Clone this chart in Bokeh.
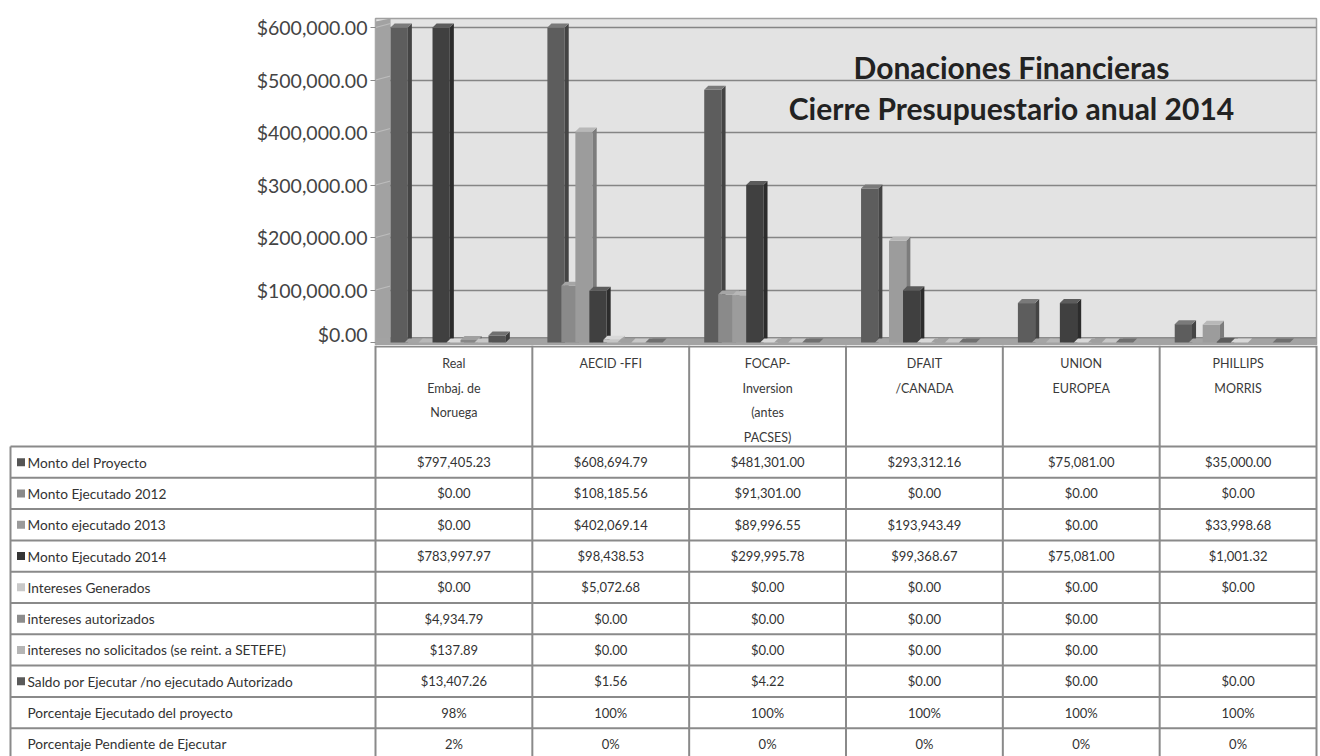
from bokeh.plotting import figure
from bokeh.layouts import column
from bokeh.models import Range1d, NumeralTickFormatter, FixedTicker, Label
from bokeh.embed import file_html
from bokeh.resources import INLINE
from bokeh.core.properties import value

# ---------------- data ----------------
categories = [
    ["Real", "Embaj. de", "Noruega"],
    ["AECID -FFI"],
    ["FOCAP-", "Inversion", "(antes", "PACSES)"],
    ["DFAIT", "/CANADA"],
    ["UNION", "EUROPEA"],
    ["PHILLIPS", "MORRIS"],
]
series_names = [
    "Monto  del Proyecto",
    "Monto Ejecutado 2012",
    "Monto  ejecutado 2013",
    "Monto Ejecutado 2014",
    "Intereses Generados",
    "intereses autorizados",
    "intereses no solicitados (se reint. a SETEFE)",
    "Saldo por Ejecutar /no ejecutado Autorizado",
]
monto_proyecto = [797405.23, 608694.79, 481301.00, 293312.16, 75081.00, 35000.00]
ejecutado_2012 = [0.00, 108185.56, 91301.00, 0.00, 0.00, 0.00]
ejecutado_2013 = [0.00, 402069.14, 89996.55, 193943.49, 0.00, 33998.68]
ejecutado_2014 = [783997.97, 98438.53, 299995.78, 99368.67, 75081.00, 1001.32]
intereses_generados = [0.00, 5072.68, 0.00, 0.00, 0.00, 0.00]
intereses_autorizados = [4934.79, 0.00, 0.00, 0.00, 0.00, None]
intereses_no_solicitados = [137.89, 0.00, 0.00, 0.00, 0.00, None]
saldo_por_ejecutar = [13407.26, 1.56, 4.22, 0.00, 0.00, 0.00]
pct_ejecutado = ["98%", "100%", "100%", "100%", "100%", "100%"]
pct_pendiente = ["2%", "0%", "0%", "0%", "0%", "0%"]
pct_names = ["Porcentaje Ejecutado del proyecto", "Porcentaje Pendiente de Ejecutar"]
y_ticks = [0, 100000, 200000, 300000, 400000, 500000, 600000]
axis_max = 600000
title_lines = ["Donaciones Financieras", "Cierre Presupuestario anual 2014"]

series_values = [monto_proyecto, ejecutado_2012, ejecutado_2013, ejecutado_2014,
                 intereses_generados, intereses_autorizados, intereses_no_solicitados,
                 saldo_por_ejecutar]

# styles: (front, side, top, legend)
styles = [
    ("#5d5d5d", "#444444", "#7a7a7a", "#555555"),
    ("#8a8a8a", "#6e6e6e", "#a5a5a5", "#8a8a8a"),
    ("#9c9c9c", "#7c7c7c", "#b8b8b8", "#9a9a9a"),
    ("#404040", "#2c2c2c", "#5c5c5c", "#353535"),
    ("#c6c6c6", "#a8a8a8", "#d8d8d8", "#c8c8c8"),
    ("#878787", "#6a6a6a", "#a0a0a0", "#8c8c8c"),
    ("#b3b3b3", "#959595", "#c8c8c8", "#b5b5b5"),
    ("#555555", "#3c3c3c", "#707070", "#5a5a5a"),
]

FONT = "Lato"
W = 1320
LEFT = 375
RIGHT = 4
H1 = 345
H2 = 411
TOP = 18
px_val = axis_max / 315.0          # value units per pixel

# ---------------- chart ----------------
p = figure(width=W, height=H1, x_range=Range1d(0, 6),
           y_range=Range1d(-3 * px_val, axis_max + 9 * px_val),
           output_backend="svg", toolbar_location=None,
           min_border_left=LEFT, min_border_right=RIGHT, min_border_top=TOP, min_border_bottom=0,
           x_axis_location=None)
p.frame_align = False
p.background_fill_color = "#e3e3e3"
p.border_fill_color = "white"
p.outline_line_color = "#a0a0a0"
p.outline_line_width = 1.5
p.xgrid.visible = False
p.ygrid.grid_line_color = "#858585"
p.ygrid.grid_line_width = 1.5
p.yaxis.ticker = FixedTicker(ticks=y_ticks)
p.yaxis.formatter = NumeralTickFormatter(format="$0,0.00")
p.yaxis.major_label_text_font = FONT
p.yaxis.major_label_text_font_size = "19.5px"
p.yaxis.major_label_text_color = "#444444"
p.yaxis.axis_line_color = "#a8a8a8"
p.yaxis.major_tick_line_color = "#8a8a8a"
p.yaxis.major_tick_in = 0
p.yaxis.major_tick_out = 5
p.yaxis.minor_tick_line_color = None
p.yaxis.major_label_standoff = 3

# side wall and floor
ybot = -3 * px_val
wall_d = 0.096
p.patch([0, wall_d, wall_d, 0], [ybot, 3000, axis_max + 9 * px_val, axis_max + 6 * px_val],
        fill_color="#a2a2a2", line_color=None)
p.segment([0] * (len(y_ticks) - 1), y_ticks[1:], [wall_d] * (len(y_ticks) - 1),
          [v + 4 * px_val for v in y_ticks[1:]], line_color="#bdbdbd", line_width=1.2)
p.patch([0, 6, 6, 0], [ybot, ybot, 9000, 9000], fill_color="#a3a3a3", line_color=None)
p.segment([wall_d], [9000], [6], [9000], line_color="#8c8c8c", line_width=1.5)

off0 = 0.151
spacing = 0.0892
bw = 0.11
dx = 0.026
dy = 4 * px_val
for j, vals in enumerate(series_values):
    front, side, topc, _ = styles[j]
    L, R, T = [], [], []
    for i, v in enumerate(vals):
        if v is None:
            continue
        c = i + off0 + j * spacing
        L.append(c - bw / 2)
        R.append(c + bw / 2)
        T.append(min(v, axis_max))
    p.quad(left=L, right=R, bottom=[0] * len(L), top=T, fill_color=front, line_color=None)
    p.patches(xs=[[r, r + dx, r + dx, r] for r in R],
              ys=[[0, dy, t + dy, t] for t in T], fill_color=side, line_color=None)
    p.patches(xs=[[l, l + dx, r + dx, r] for l, r in zip(L, R)],
              ys=[[t, t + dy, t + dy, t] for t in T], fill_color=topc, line_color=None)

p.add_layout(Label(x=4.055, y=(342 - 66) * px_val, text=title_lines[0], text_align="center",
                   text_baseline="middle", text_font=FONT, text_font_style="bold",
                   text_font_size="30px", text_color="#222222"))
p.add_layout(Label(x=4.055, y=(342 - 107) * px_val, text=title_lines[1], text_align="center",
                   text_baseline="middle", text_font=FONT, text_font_style="bold",
                   text_font_size="30px", text_color="#222222"))

# ---------------- data table ----------------
t = figure(width=W, height=H2, x_range=Range1d(0, W), y_range=Range1d(H2, 0),
           output_backend="svg", toolbar_location=None, min_border=0,
           x_axis_location=None, y_axis_location=None)
t.frame_align = False
t.outline_line_color = None
t.grid.visible = False
t.background_fill_color = "white"
t.border_fill_color = "white"

colw = (W - LEFT - RIGHT) / 6
col_edges = [LEFT + k * colw for k in range(7)]
header_h = 101
row_h = 31.3
nrows = len(series_names) + len(pct_names)
row_edges = [header_h + k * row_h for k in range(nrows + 1)]
table_left = 10
LC = "#8a8a8a"

# vertical lines
t.segment(col_edges, [0] * 7, col_edges, [H2] * 7, line_color=LC, line_width=2)
t.segment([table_left], [header_h], [table_left], [H2], line_color=LC, line_width=2)
# horizontal lines
t.segment([LEFT], [1], [col_edges[-1]], [1], line_color=LC, line_width=2)
t.segment([table_left] * (nrows + 1), row_edges, [col_edges[-1]] * (nrows + 1), row_edges,
          line_color=LC, line_width=2)

# header
hx, hy, ht = [], [], []
for i, lines in enumerate(categories):
    for k, s in enumerate(lines):
        hx.append(col_edges[i] + colw / 2)
        hy.append(18 + 24.5 * k)
        ht.append(s)
t.text(x=hx, y=hy, text=ht, text_align="center", text_baseline="middle",
       text_font=value(FONT), text_font_size="12.5px", text_color="#3a3a3a")

# rows
def fmt(v):
    return "" if v is None else "${:,.2f}".format(v)

row_texts = [[fmt(v) for v in vals] for vals in series_values] + [pct_ejecutado, pct_pendiente]
row_labels = series_names + pct_names
cx, cy, ct = [], [], []
lx, ly, lt = [], [], []
for r, (lab, cells) in enumerate(zip(row_labels, row_texts)):
    yc = header_h + row_h * (r + 0.5)
    lx.append(27)
    ly.append(yc)
    lt.append(lab)
    for i, s in enumerate(cells):
        cx.append(col_edges[i] + colw / 2)
        cy.append(yc)
        ct.append(s)
t.text(x=cx, y=cy, text=ct, text_align="center", text_baseline="middle",
       text_font=value(FONT), text_font_size="13px", text_color="#333333")
t.text(x=lx, y=ly, text=lt, text_align="left", text_baseline="middle",
       text_font=value(FONT), text_font_size="13.7px", text_color="#333333")
sq_y = [header_h + row_h * (r + 0.5) for r in range(len(series_names))]
t.rect(x=[20.5] * len(sq_y), y=sq_y, width=8, height=8,
       fill_color=[s[3] for s in styles], line_color=None)

layout = column(p, t, spacing=0)
open("out.html", "w").write(file_html(layout, INLINE))
